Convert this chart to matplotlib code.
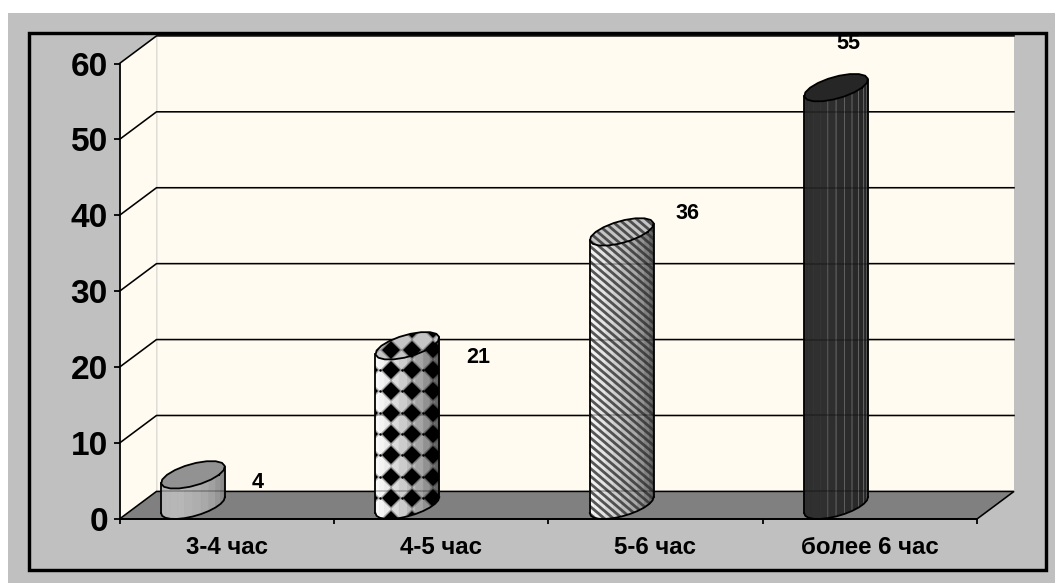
import numpy as np
import matplotlib

matplotlib.use('Agg')
import matplotlib.pyplot as plt
from matplotlib.colors import to_rgb
from matplotlib.patches import Polygon, Rectangle

categories = ['3-4 час', '4-5 час', '5-6 час', 'более 6 час']
values = [4, 21, 36, 55]
y_ticks = [0, 10, 20, 30, 40, 50, 60]

# label offsets from the top of each column, in pixels
label_dx = [65, 71, 66, 12]
label_dy = [6, 2, 32, 58]

W, H = 1055, 584
LEFT, RIGHT, BOTTOM, TOP = 119.5, 977, 519, 63.5
PX_X = (RIGHT - LEFT) / 4
PX_Y = (BOTTOM - TOP) / 60

DEPTH_X = 37 / PX_X
DEPTH_Y = 27.6 / PX_Y
BAR_OFFSET = 0.2565
RADIUS = 26 / PX_X
FACETS = 12

WALL = '#FFFBF0'
PANEL = '#C0C0C0'
FLOOR = '#808080'

plt.rcParams['font.family'] = ['Liberation Sans', 'DejaVu Sans']
plt.rcParams['font.weight'] = 'bold'
plt.rcParams['text.hinting'] = 'no_autohint'


def px(n):
    # pixels to points at dpi 100
    return n * 0.72


def ramp(colors, n):
    stops = np.array([to_rgb(c) for c in colors])
    pos = np.linspace(0, len(colors) - 1, n)
    return [tuple(np.interp(p, range(len(colors)), stops[:, k]) for k in range(3)) for p in pos]


def ring(x_c, y_c, t):
    x = x_c + RADIUS * np.cos(t) + DEPTH_X / 2 * np.sin(t)
    y = y_c + DEPTH_Y / 2 * np.sin(t)
    return np.column_stack([x, y])


def add_stripes(ax, clip, x_c, y_low, y_high, zorder):
    # diagonal lines running down to the right, spaced in pixels
    height = (y_high - y_low) * PX_Y + 20
    x_mid = x_c * PX_X
    run = height / 0.85
    for start in np.arange(x_mid - run - 50, x_mid + 50, 9.0):
        xs = np.array([start, start + run]) / PX_X
        ys = np.array([y_high + 10 / PX_Y, y_high + 10 / PX_Y - height / PX_Y])
        line, = ax.plot(xs, ys, color='#303030', lw=px(2.8), alpha=0.8, zorder=zorder, solid_capstyle='butt')
        line.set_clip_path(clip)


def add_diamond_marks(ax, clip, xs, ys, zorder):
    # a wider faint mark under each diamond softens its edge
    gx, gy = np.meshgrid(xs, ys)
    for size, alpha in ((16, 0.3), (12.5, 1.0)):
        marks, = ax.plot(gx.ravel() / PX_X, gy.ravel() / PX_Y, 'D', ms=px(size), color='black', alpha=alpha,
                         mew=0, zorder=zorder)
        marks.set_clip_path(clip)
    return gx, gy


def draw_column(ax, index, value, style):
    x_c = index + BAR_OFFSET + DEPTH_X / 2
    y_c = DEPTH_Y / 2
    t_right = np.arctan2(DEPTH_X / 2, RADIUS)
    t_left = t_right - np.pi
    t_front = np.linspace(t_left, t_right, FACETS + 1)

    low = ring(x_c, y_c, t_front)
    high = ring(x_c, y_c + value, t_front)
    shades = ramp(style['shades'], FACETS)
    for i in range(FACETS):
        quad = [low[i], low[i + 1], high[i + 1], high[i]]
        edge = style['lines'] if style['lines'] and i >= FACETS / 2 - 1 else shades[i]
        ax.add_patch(Polygon(quad, closed=True, fc=shades[i], ec=edge, lw=0.5, zorder=4))

    # outline of the visible side, also used to clip the fill pattern
    side = np.vstack([low, high[::-1]])
    clip = Polygon(side, closed=True, fc='none', ec='none', transform=ax.transData)
    ax.add_patch(clip)

    # grid and floor edge show faintly through the column
    for tick in y_ticks[:-1]:
        seen, = ax.plot([x_c - 0.3, x_c + 0.3], [tick + DEPTH_Y] * 2, color='black', lw=px(1.6), alpha=0.28,
                        zorder=5.5)
        seen.set_clip_path(clip)

    top_t = np.linspace(0, 2 * np.pi, 19)
    cap_xy = ring(x_c, y_c + value, top_t)
    ax.add_patch(Polygon(cap_xy, closed=True, fc=style['cap'], ec='none', zorder=6))
    cap_clip = Polygon(cap_xy, closed=True, fc='none', ec='none', transform=ax.transData)
    ax.add_patch(cap_clip)

    x_mid = x_c * PX_X
    if style['pattern'] == 'stripes':
        add_stripes(ax, clip, x_c, 0, value + DEPTH_Y, 5)
        add_stripes(ax, cap_clip, x_c, value, value + DEPTH_Y + 2, 7)
    elif style['pattern'] == 'diamonds':
        cols = x_mid + np.array([-38, -16.5, 5, 26])
        rows = np.arange(-0.5, (value + DEPTH_Y) * PX_Y, 21.35)
        gx, gy = add_diamond_marks(ax, clip, cols, rows, 5)
        dots, = ax.plot((gx.ravel() + 10.7) / PX_X, gy.ravel() / PX_Y, 'o', ms=px(2.5), color='black', mew=0, zorder=5)
        dots.set_clip_path(clip)
        cap_mid = (value + y_c) * PX_Y
        add_diamond_marks(ax, cap_clip, cols, cap_mid + np.array([-4.5, 16.5]), 7)

    ax.plot(*np.column_stack([low[0], high[0]]), color='black', lw=px(1.8), zorder=8)
    ax.plot(*np.column_stack([low[-1], high[-1]]), color='black', lw=px(1.8), zorder=8)
    ax.plot(low[:, 0], low[:, 1], color='black', lw=px(1.8), zorder=8)
    ax.plot(cap_xy[:, 0], cap_xy[:, 1], color='black', lw=px(1.8), zorder=8)


column_styles = [
    {'shades': ['#b4b4b4', '#b8b8b8', '#a8a8a8', '#808080'], 'cap': '#929292', 'pattern': None, 'lines': None},
    {'shades': ['#ffffff', '#eeeeee', '#c4c4c4', '#8c8c8c', '#505050'], 'cap': '#c4c4c4',
     'pattern': 'diamonds', 'lines': None},
    {'shades': ['#ffffff', '#e8e8e8', '#c4c4c4', '#909090', '#505050'], 'cap': '#c4c4c4',
     'pattern': 'stripes', 'lines': None},
    {'shades': ['#2e2e2e', '#303030', '#2a2a2a', '#242424'], 'cap': '#262626', 'pattern': None, 'lines': '#6a6a6a'},
]

fig = plt.figure(figsize=(W / 100, H / 100), dpi=100, facecolor='white')
fig.add_artist(Rectangle((8 / W, 1 - 583 / H), 1047 / W, 570 / H, transform=fig.transFigure,
                         fc=PANEL, ec='none', zorder=-2))
fig.add_artist(Rectangle((28.5 / W, 1 - 570 / H), 1017.5 / W, 537 / H, transform=fig.transFigure,
                         fc='none', ec='black', lw=px(3.4), zorder=20))

ax = fig.add_axes([LEFT / W, 1 - BOTTOM / H, (RIGHT - LEFT) / W, (BOTTOM - TOP) / H])
ax.patch.set_visible(False)
ax.set_xlim(0, 4)
ax.set_ylim(0, 60)

top = y_ticks[-1]
ax.add_patch(Polygon([(0, 0), (DEPTH_X, DEPTH_Y), (DEPTH_X, top + DEPTH_Y), (0, top)], closed=True,
                     fc=WALL, ec='none', zorder=1))
ax.add_patch(Polygon([(DEPTH_X, DEPTH_Y), (4 + DEPTH_X, DEPTH_Y), (4 + DEPTH_X, top + DEPTH_Y),
                      (DEPTH_X, top + DEPTH_Y)], closed=True, fc=WALL, ec='none', zorder=1))
ax.plot([DEPTH_X, DEPTH_X], [DEPTH_Y, top + DEPTH_Y], color='#EDEAE0', lw=px(1), zorder=1.5)

for tick in y_ticks[1:]:
    ax.plot([0, DEPTH_X, 4 + DEPTH_X], [tick, tick + DEPTH_Y, tick + DEPTH_Y], color='black', lw=px(1.6), zorder=2)

ax.add_patch(Polygon([(0, 0), (4, 0), (4 + DEPTH_X, DEPTH_Y), (DEPTH_X, DEPTH_Y)], closed=True,
                     fc=FLOOR, ec='black', lw=px(1.6), zorder=3))

for i, val in enumerate(values):
    draw_column(ax, i, val, column_styles[i])
for artist in ax.lines + ax.patches:
    if artist.get_clip_path() is None:
        artist.set_clip_on(False)

for i, val in enumerate(values):
    x_pos = i + BAR_OFFSET + DEPTH_X / 2 + label_dx[i] / PX_X
    y_pos = val + label_dy[i] / PX_Y
    ax.text(x_pos, y_pos, str(val), ha='center', va='center', fontsize=15.5, color='black', zorder=10,
            clip_on=False)

for side in ('top', 'right'):
    ax.spines[side].set_visible(False)
for side in ('left', 'bottom'):
    ax.spines[side].set_linewidth(px(1.8))
    ax.spines[side].set_zorder(9)

ax.set_yticks(y_ticks)
ax.tick_params(axis='y', labelsize=24, length=px(6), width=px(1.8), pad=4)
ax.set_xticks(range(5))
ax.set_xticklabels([])
ax.tick_params(axis='x', length=px(5), width=px(1.8))

# category names sit on one baseline, so they are placed by hand between the ticks
for i, name in enumerate(categories):
    ax.annotate(name, xy=(i + 0.5, 0), xycoords=('data', 'axes fraction'), xytext=(0, -px(35)),
                textcoords='offset points', ha='center', va='baseline', fontsize=17.3)

fig.savefig('out.png', dpi=100)
plt.close(fig)
